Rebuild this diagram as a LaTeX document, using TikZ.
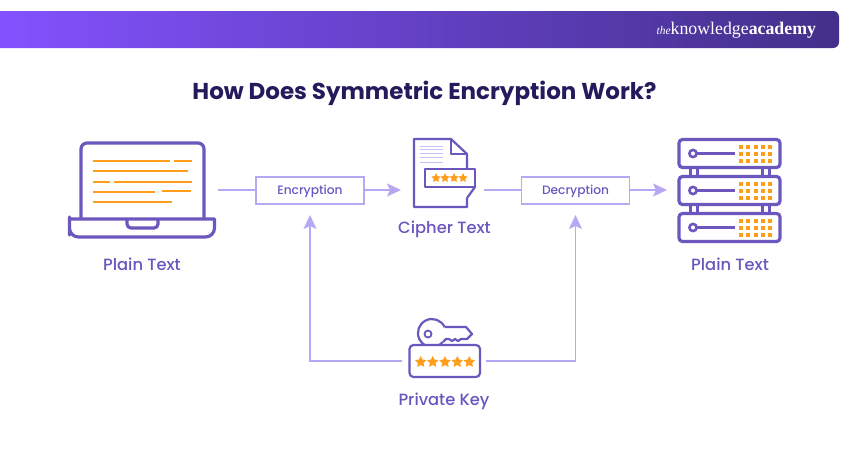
\documentclass[tikz,border=0pt]{standalone}
\usepackage{fontspec}
\setmainfont{Poppins}
\newfontfamily\medfont{Poppins Medium}
\newfontfamily\logofont{Liberation Serif}
\usetikzlibrary{arrows.meta,calc}
\definecolor{violetline}{HTML}{6B57BE}
\definecolor{lav}{HTML}{B8A8F4}
\definecolor{lavtext}{HTML}{C9BEF6}
\definecolor{orangeline}{HTML}{FF9E1B}
\definecolor{titleink}{HTML}{241B5C}
\definecolor{labelink}{HTML}{6A56BE}
\definecolor{bannerleft}{HTML}{8452FF}
\definecolor{bannerright}{HTML}{43308A}
\tikzset{
  x=1pt,y=-1pt,
  iconline/.style={draw=violetline,line width=3.2pt,line join=round},
  thinicon/.style={draw=violetline,line width=2.2pt,line join=round},
  textrule/.style={draw=orangeline,line width=2pt},
  docrule/.style={draw=lavtext,line width=1pt},
  icon/.style={inner sep=0pt,outer sep=0pt},
  opbox/.style={draw=lav,line width=1.5pt,minimum width=108pt,minimum height=27pt,inner sep=0pt,outer sep=0pt,text=labelink,text height=11.5pt,text depth=2.7pt,font=\medfont\fontsize{12.2}{14}\selectfont},
  flow/.style={draw=lav,line width=1.5pt,-{Stealth[length=14pt,width=13pt,inset=3pt]}},
  plainflow/.style={draw=lav,line width=1.5pt},
  caption/.style={text=labelink,font=\medfont\fontsize{16.3}{19}\selectfont,inner sep=0pt},
}
\newcommand{\fivestar}[3]{\fill[orangeline] ($(#1,#2)+(270:#3)$) -- ($(#1,#2)+(306:#3*0.5)$) -- ($(#1,#2)+(342:#3)$) -- ($(#1,#2)+(18:#3*0.5)$) -- ($(#1,#2)+(54:#3)$) -- ($(#1,#2)+(90:#3*0.5)$) -- ($(#1,#2)+(126:#3)$) -- ($(#1,#2)+(162:#3*0.5)$) -- ($(#1,#2)+(198:#3)$) -- ($(#1,#2)+(234:#3*0.5)$) -- cycle;}
\begin{document}
\begin{tikzpicture}
\useasboundingbox (0,0) rectangle (850,450);
\fill[white] (0,0) rectangle (850,450);
% banner
\shade[left color=bannerleft,right color=bannerright,rounded corners=6pt]
  (-10,11) -- (839,11) -- (839,48) -- (-10,48) -- cycle;
\node[icon,anchor=east,text=white] (logo) at (816,30) {\logofont\fontsize{17.8}{20}\selectfont{\itshape\fontsize{11.5}{12}\selectfont the}knowledge\textbf{academy}};
\node[icon,text=titleink] (title) at (424.5,93.5) {\fontsize{23}{28}\selectfont\bfseries How Does Symmetric Encryption Work?};

% anchors for the icons
\node[icon,minimum width=150pt,minimum height=96pt] (laptop) at (143,190) {};
\node[icon,minimum width=83pt,minimum height=68pt] (cipher) at (442.5,190) {};
\node[icon,minimum width=114pt,minimum height=103pt] (server) at (724,190) {};
\node[icon,minimum width=84pt,minimum height=32pt] (key) at (444,361) {};
\node[opbox] (enc) at (310,190.5) {Encryption};
\node[opbox] (dec) at (575.5,190.5) {Decryption};

% connectors
\draw[plainflow] (laptop.east) -- (enc.west |- laptop.east);
\draw[flow] (enc.east |- cipher.west) -- (cipher.west);
\draw[plainflow] (cipher.east) -- (dec.west |- cipher.east);
\draw[flow] (dec.east |- server.west) -- (server.west);
\draw[flow,shorten >=11pt] (key.west) -| (enc.south);
\draw[flow,shorten >=11pt] (key.east) -| (dec.south);

% laptop
\draw[iconline,rounded corners=6pt] (81,218) -- (81,143) -- (204,143) -- (204,218);
\draw[iconline] (127,219) -- (127,224) arc[start angle=180,end angle=90,radius=4] -- (154,228) arc[start angle=90,end angle=0,radius=4] -- (158,219);
\draw[iconline] (69.5,219) -- (214.5,219) -- (214.5,226) [rounded corners=9pt] -- (214.5,237) -- (69.5,237) -- (69.5,226) [sharp corners] -- (69.5,219) -- (80,219);
\foreach \a/\b/\y in {93/170/161,174/192/161,93/188/171,93/110/181.5,114/192/181.5,93/155/191.5,162/191/190.5,93/172/202}
  \draw[textrule] (\a,\y) -- (\b,\y);

% document
\draw[thinicon] (467,168) -- (467,154) -- (451,139) -- (414,139) -- (414,207) -- (467,207) -- (467,198);
\draw[thinicon] (451,139) -- (451,154) -- (467,154);
\draw[thinicon] (467,198) -- (475,187);
\draw[thinicon] (425,169) rectangle (475,187);
\foreach \y in {146,149.5,153,157,162}
  \draw[docrule] (420,\y) -- (443,\y);
\foreach \x in {436,445,454,463}
  {\fivestar{\x}{178}{4.8}}

% server
\foreach \a/\b in {139.5/167.5,176.5/204.5,213.5/241.5}{
  \draw[iconline,rounded corners=3.5pt] (679,\a) rectangle (780,\b);
  \draw[iconline,line width=2.6pt] (696.5,{(\a+\b)/2}) -- (735,{(\a+\b)/2});
  \draw[iconline,line width=2.6pt] (693,{(\a+\b)/2}) circle[radius=3.6];
  \foreach \x in {741,748.3,755.7,763,770.3}
    \foreach \d in {-7,0,7}
      \fill[orangeline] (\x-2,{(\a+\b)/2+\d-2}) rectangle (\x+2,{(\a+\b)/2+\d+2});
}
\foreach \a/\b in {169/175,206/212}
  \foreach \x in {690.5,697.5,762.5,769.5}
    \draw[iconline,line width=2.4pt] (\x,\a) -- (\x,\b);

% key
\draw[thinicon] (444.6,327) -- (466,327) -- (472,334) -- (467,339) -- (461,339) -- (458,341) -- (455,339) -- (452,341) -- (449,339) -- (446,339) -- (443,342);
\draw[thinicon] (444.6,327) arc[start angle=-25.4,end angle=-320,radius=14];
\draw[thinicon,line width=1.8pt] (428,334) circle[radius=3.5];
\draw[thinicon,fill=white,rounded corners=4pt] (409.5,345) rectangle (480,377);
\foreach \x in {420.7,432.7,445,457.3,469.3}
  {\fivestar{\x}{362}{6}}

% captions
\node[caption] (cap1) at (142,264.5) {Plain Text};
\node[caption] (cap2) at (444.5,229.5) {Cipher Text};
\node[caption] (cap3) at (730,264.5) {Plain Text};
\node[caption] (cap4) at (444,401.5) {Private Key};
\end{tikzpicture}
\end{document}
